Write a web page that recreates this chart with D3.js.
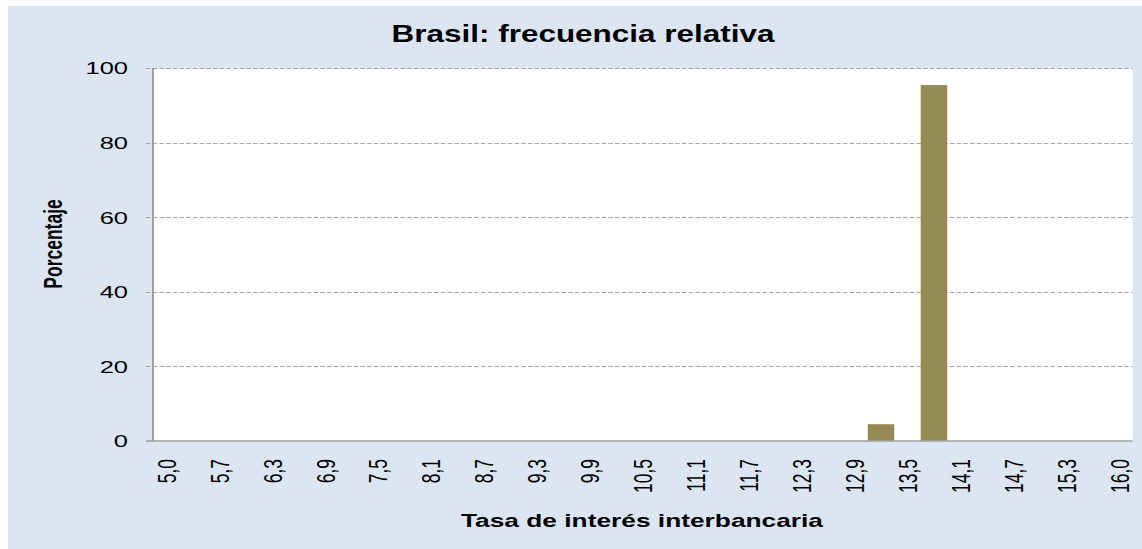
<!DOCTYPE html>
<html><head><meta charset="utf-8">
<script src="https://cdn.jsdelivr.net/npm/d3@7"></script>
<style>html,body{margin:0;padding:0;background:#fff;}svg{display:block;}text{font-family:"Liberation Sans",Arial,sans-serif;}</style>
</head><body>
<svg id="chart" width="1142" height="549"></svg>
<script>
const title = "Brasil: frecuencia relativa";
const xTitle = "Tasa de interés interbancaria";
const yTitle = "Porcentaje";
const edgeLabels = ["5,0","5,7","6,3","6,9","7,5","8,1","8,7","9,3","9,9","10,5","11,1","11,7","12,3","12,9","13,5","14,1","14,7","15,3","16,0"];
const binValues = [0,0,0,0,0,0,0,0,0,0,0,0,0,4.5,95.5,0,0,0];
const yTicks = [0,20,40,60,80,100];

const svg = d3.select("#chart");
const SX = 1.5;
const plot = {left:153, right:1132.5, top:68.3, bottom:441};

svg.append("rect").attr("x",8).attr("y",6).attr("width",1134).attr("height",543).attr("fill","#dce6f2");
svg.append("rect").attr("x",plot.left).attr("y",plot.top).attr("width",plot.right-plot.left).attr("height",plot.bottom-plot.top).attr("fill","#fff");

const x = d3.scaleLinear().domain([-0.25, edgeLabels.length-0.75]).range([plot.left, plot.right]);
const y = d3.scaleLinear().domain([0,100]).range([plot.bottom, plot.top]);

// gridlines
svg.append("g").selectAll("line").data(yTicks.filter(d=>d>0)).join("line")
  .attr("x1",146).attr("x2",plot.right)
  .attr("y1",d=>Math.round(y(d))+0.5).attr("y2",d=>Math.round(y(d))+0.5)
  .attr("stroke","#a6a6a6").attr("stroke-width",1.2).attr("stroke-dasharray","4.5,2.2");

// bars
const bw = x(0.5)-x(0);
svg.append("g").selectAll("rect").data(binValues.map((v,i)=>({v,i})).filter(d=>d.v>0)).join("rect")
  .attr("x",d=>x(d.i+0.5)-bw/2).attr("width",bw)
  .attr("y",d=>y(d.v)).attr("height",d=>y(0)-y(d.v))
  .attr("fill","#948a54");

// axes lines
svg.append("line").attr("x1",plot.left).attr("x2",plot.left).attr("y1",plot.top).attr("y2",plot.bottom)
  .attr("stroke","#868686").attr("stroke-width",1.5);
svg.append("line").attr("x1",146).attr("x2",plot.right).attr("y1",plot.bottom).attr("y2",plot.bottom)
  .attr("stroke","#a0a0a0").attr("stroke-width",1.5);

// y tick labels
svg.append("g").selectAll("text").data(yTicks).join("text")
  .attr("transform",d=>`translate(128,${y(d)}) scale(${SX},1)`)
  .attr("text-anchor","end").attr("dy","0.36em")
  .attr("font-size",17).attr("fill","#000").text(d=>d);

// x tick labels
svg.append("g").selectAll("text").data(edgeLabels).join("text")
  .attr("transform",(d,i)=>`translate(${x(i)},459) scale(${SX},1) rotate(-90)`)
  .attr("text-anchor","end").attr("dy","0.36em")
  .attr("font-size",17.5).attr("fill","#000").text(d=>d);

// titles
svg.append("text").attr("x",583).attr("y",42).attr("text-anchor","middle")
  .attr("font-size",23).attr("font-weight","bold").attr("textLength",383).attr("lengthAdjust","spacingAndGlyphs").text(title);
svg.append("text").attr("x",642).attr("y",527).attr("text-anchor","middle")
  .attr("font-size",19).attr("font-weight","bold").attr("textLength",362).attr("lengthAdjust","spacingAndGlyphs").text(xTitle);
svg.append("text").attr("transform",`translate(62,244) scale(${SX},1) rotate(-90)`)
  .attr("text-anchor","middle").attr("font-size",17.5).attr("font-weight","bold").text(yTitle);
</script>
</body></html>
